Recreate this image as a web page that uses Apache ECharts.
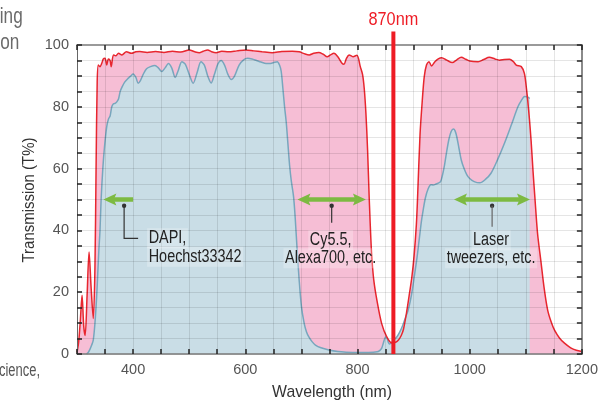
<!DOCTYPE html>
<html><head><meta charset="utf-8">
<script src="https://cdn.jsdelivr.net/npm/echarts@6/dist/echarts.min.js"></script>
<style>html,body{margin:0;padding:0;background:#fff;overflow:hidden}#c{width:601px;height:401px}</style>
</head><body><div id="c"></div>
<script>
// ---- data ----
const wavelengthTicks = [400, 600, 800, 1000, 1200];
const transmissionTicks = [0, 20, 40, 60, 80, 100];

// filter transmission (red / pink)
const filterCurve = [
  [300,0.5],[303,4],[306,11],[309,19],[312,9],[314.5,6],[318,19],[321.5,33],[325,22],[329,11.5],
  [332,28],[334,60],[336,88],[338,93.5],[341,93],[344,94],[347,95.5],[350,95.7],[353,93.5],[356,95.5],
  [359,95],[361,93],[365,96.8],[369,96.5],[374,97.3],[380,96.8],[388,97.8],[397,97.3],[405,97.8],[412,97.9],
  [425,97.6],[440,97.9],[455,97.6],[470,98],[485,97.7],[500,98.4],[510,97.8],[518,97.5],[525,98],[533,98.4],
  [540,97.8],[548,97.5],[558,98],[570,97.8],[585,98.1],[601,98.4],[615,98.1],[630,97.8],[648,97.5],[665,97.9],
  [684,98],[696,97.8],[705,97.2],[714,96.8],[722,97.3],[731,97.6],[739,97],[746,96.2],[752,96.8],[758,97.3],
  [765,96.2],[772,94.2],[776,93.8],[780,95.5],[785,96.8],[792,96.2],[799,96.7],[805,93],[809,90.5],[812,86],
  [815,78],[818,66],[821,50],[825,33],[829,24],[835,17],[843,9.9],[852,5.6],[861,3.6],[868,3.8],
  [873,4.5],[878,6],[882,8],[888,14],[893,20],[897,25],[901,32],[905,42],[907,50],[911.5,71],
  [915.5,82],[919,89.7],[923,93.5],[927.5,94.6],[932,93.2],[938,94.6],[944,95.5],[950,95.9],[959,95.1],[969,94.3],
  [977,95.2],[985,96],[993,95.4],[1000,94.8],[1015,94.6],[1025,95.3],[1035,96],[1045,95.5],[1053,95.1],[1062,95.3],
  [1071,95.4],[1078,94.6],[1083,93.5],[1092,93],[1097.5,90.8],[1100.5,87],[1103.5,82],[1106.5,76],[1109.5,69],[1113,59],
  [1116.5,50],[1121,39],[1127,30],[1133,21],[1139,14.2],[1145,10.5],[1151,7.8],[1160,5.2],[1169,3.5],[1180,2],
  [1190,1.2],[1200,0.8]
];

// specimen / dye transmission (blue)
const specimenCurve = [
  [317,0],[320,0.5],[323,1.5],[326,2.8],[329,4.5],[332,10],[335,18.5],[337,26],[339,33.7],[341,40],
  [343,50],[346,60],[349,67],[353,73.6],[356,76],[359,77],[362,80],[365,81],[368,81.1],[371,81.6],
  [374,82.5],[377,85],[380,86.3],[385,88],[391,89.2],[396,90],[400,90.6],[405,89.5],[409,87.6],[413,88.5],
  [418,90.5],[424,92.3],[431,93],[439,93.4],[445,92.6],[451,91.4],[457,92.6],[463,94],[469,92.5],[475,89.5],
  [480,91.5],[487,94.6],[493,93.8],[500,90.5],[507,87.6],[514,91],[521,94.6],[527,93.5],[533,90],[539,87.7],
  [545,90.5],[551,93.8],[557,95],[563,93.5],[569,90.5],[575,88.8],[581,90],[589,93.5],[597,95.2],[604,95.7],
  [612,95.5],[620,95],[628,94.5],[637,94],[645,94],[652,94.4],[657,94.6],[661,93.5],[664,91.5],[667,86],
  [670,80],[673,75],[676,68],[679,61],[682,56],[686,51],[689,44],[692,35],[696,24],[700,15.5],
  [705,9.9],[709,7.2],[713,5.6],[719,4],[725,2.9],[735,2],[749,1.3],[765,0.8],[780,0.6],[800,0.5],
  [820,0.5],[835,0.7],[840,1.2],[843,1.8],[846,3.5],[849,5.2],[851,5.6],[853,5],[855,3.8],[857,3.2],
  [859,3.4],[862,4],[866,4.8],[870,5.5],[875,7],[880,9],[885,11.5],[890,14],[894,17],[898,21],
  [902,26],[906,31],[910,37],[914,43],[917,46.5],[921,50.5],[926,53.5],[931,54.8],[935,54.7],[940,55],
  [944,55.3],[948,55.8],[951,57.5],[955,61],[959,65.5],[963,69.5],[967,72],[971,72.8],[974,72.2],[977,70.3],
  [981,66.5],[985,62.8],[990,60],[995,58],[1000,56.8],[1008,55.8],[1018,55.4],[1028,56.5],[1038,58.5],[1050,63],
  [1062,68.2],[1074,74],[1086,80],[1092,82],[1098,83.3],[1103,83.2],[1107,82.7]
];

// laser line (drawn position) and its label
const laserLineNm = 864;
const laserLineLabel = '870nm';

// wavelength bands shown by green arrows: [from, to]
const bandFrom = [347, 693, 972];
const bandTo = [400, 815, 1107.5];
const bandMarker = [384, 754, 1040];
const bandLabels = [['DAPI,', 'Hoechst33342'], ['Cy5.5,', 'Alexa700, etc.'], ['Laser', 'tweezers, etc.']];

const xTitle = 'Wavelength (nm)';
const yTitle = 'Transmission (T%)';

// ---- chart ----
const chart = echarts.init(document.getElementById('c'), null, {renderer: 'canvas'});
const FONT = '"Liberation Sans", Arial, sans-serif';
const tickStyle = {color: '#222', width: 1.5};
const gridLine = {show: true, lineStyle: {color: 'rgba(0,0,0,0.10)', width: 1}};

chart.setOption({
  animation: false,
  grid: {left: 77, right: 17, top: 45, bottom: 47, containLabel: false},
  xAxis: [
    {type: 'value', min: 300, max: 1200, interval: 50, position: 'bottom', z: 3,
     axisLine: {show: true, onZero: false, lineStyle: {color: '#7a7a7a', width: 1.5}},
     axisTick: {show: true, inside: true, length: 5, lineStyle: tickStyle},
     axisLabel: {margin: 8, color: '#555', fontSize: 14.5, fontFamily: FONT,
       formatter: v => wavelengthTicks.includes(v) ? String(v) : ''},
     splitLine: gridLine},
    {type: 'value', min: 300, max: 1200, interval: 50, position: 'top', z: 3,
     axisLine: {show: true, onZero: false, lineStyle: {color: '#9a9a9a', width: 2}},
     axisTick: {show: true, inside: true, length: 5, lineStyle: tickStyle},
     axisLabel: {show: false}, splitLine: {show: false}}
  ],
  yAxis: [
    {type: 'value', min: 0, max: 100, interval: 5, position: 'left', z: 3,
     axisLine: {show: true, onZero: false, lineStyle: {color: '#666', width: 1}},
     axisTick: {show: true, inside: true, length: 5, lineStyle: tickStyle},
     axisLabel: {margin: 8, color: '#555', fontSize: 14.5, fontFamily: FONT,
       formatter: v => transmissionTicks.includes(v) ? String(v) : ''},
     splitLine: gridLine},
    {type: 'value', min: 0, max: 100, interval: 5, position: 'right', z: 3,
     axisLine: {show: true, onZero: false, lineStyle: {color: '#8a8a8a', width: 2}},
     axisTick: {show: true, inside: true, length: 5, lineStyle: tickStyle},
     axisLabel: {show: false}, splitLine: {show: false}}
  ],
  series: [
    {type: 'line', data: filterCurve, xAxisIndex: 0, yAxisIndex: 0, showSymbol: false, smooth: 0.3,
     lineStyle: {width: 0, color: '#e8262f'}, areaStyle: {color: '#f6bed5', opacity: 1}, z: 1, silent: true},
    {type: 'line', data: specimenCurve, xAxisIndex: 0, yAxisIndex: 0, showSymbol: false, smooth: 0.3,
     lineStyle: {width: 1.5, color: '#78a6bd'}, areaStyle: {color: '#c9dde6', opacity: 1}, z: 2, silent: true},
    {type: 'line', data: filterCurve, xAxisIndex: 0, yAxisIndex: 0, showSymbol: false, smooth: 0.3,
     lineStyle: {width: 1.5, color: '#e8262f'}, z: 2, silent: true}
  ]
});

// ---- annotations (positioned through the axes) ----
const P = (x, y) => chart.convertToPixel({xAxisIndex: 0, yAxisIndex: 0}, [x, y]);
const els = [];
function txt(text, x, y, opt) {
  opt = opt || {};
  const st = {text, fill: opt.fill || '#222', font: (opt.size || 18) + 'px ' + FONT,
    textAlign: opt.align || 'center', align: opt.align || 'center',
    textVerticalAlign: 'middle', verticalAlign: 'middle'};
  if (opt.bg) { st.backgroundColor = opt.bg; st.padding = [1, 2]; }
  els.push({type: 'text', x, y, scaleX: opt.sx || 1, rotation: opt.rot || 0, z: 60, style: st});
}

// laser line
const lx = P(laserLineNm, 0);
els.push({type: 'line', shape: {x1: lx[0], y1: lx[1], x2: lx[0], y2: 31.5}, style: {stroke: '#ee1c25', lineWidth: 4}, z: 50});
txt(laserLineLabel, lx[0], 19.5, {fill: '#ee1c25', size: 18.5, sx: 0.88});

// green arrows
const G = '#7dba42';
function head(tipX, y, dir) {
  const hl = 13, hw = 6;
  els.push({type: 'polygon', z: 55, style: {fill: G},
    shape: {points: [[tipX, y], [tipX + dir * hl, y - hw], [tipX + dir * (hl - 2.5), y], [tipX + dir * hl, y + hw]]}});
}
for (let i = 0; i < bandFrom.length; i++) {
  const a = P(bandFrom[i], 50), b = P(bandTo[i], 50);
  const y = a[1];
  const twoHeads = i > 0;
  const x1 = a[0] + 10, x2 = twoHeads ? b[0] - 10 : b[0];
  els.push({type: 'rect', z: 54, shape: {x: x1, y: y - 2.25, width: x2 - x1, height: 4.5}, style: {fill: G}});
  head(a[0], y, 1);
  if (twoHeads) head(b[0], y, -1);
  const d = P(bandMarker[i], 48);
  els.push({type: 'circle', z: 56, shape: {cx: d[0], cy: d[1], r: 2.2}, style: {fill: '#333'}});
  if (i === 0) {
    els.push({type: 'polyline', z: 56, shape: {points: [[d[0], d[1]], [d[0], d[1] + 32.6], [d[0] + 14, d[1] + 32.6]]},
      style: {stroke: '#333', lineWidth: 1.2, fill: null}});
    txt(bandLabels[i][0], d[0] + 23, d[1] + 32.5, {align: 'left', sx: 0.8, bg: 'rgba(255,255,255,0.25)'});
    txt(bandLabels[i][1], d[0] + 23, d[1] + 51, {align: 'left', sx: 0.8, bg: 'rgba(255,255,255,0.25)'});
  } else {
    els.push({type: 'line', z: 56, shape: {x1: d[0], y1: d[1], x2: d[0], y2: d[1] + (i === 1 ? 17 : 21)},
      style: {stroke: i === 1 ? '#333' : '#666', lineWidth: 1.2}});
    txt(bandLabels[i][0], d[0] - 1, d[1] + 34.5, {sx: 0.8, bg: 'rgba(255,255,255,0.25)'});
    txt(bandLabels[i][1], d[0] - 1, d[1] + 52.5, {sx: 0.8, bg: 'rgba(255,255,255,0.25)'});
  }
}

// axis titles
txt(xTitle, 332, 392, {fill: '#333', size: 17, sx: 0.93});
txt(yTitle, 29, 200, {fill: '#333', size: 17, sx: 0.88, rot: Math.PI / 2});

// fragments of surrounding page text
txt('ing', 22.7, 17, {fill: '#6b6b6b', size: 22, sx: 0.78, align: 'right'});
txt('on', 19.3, 43, {fill: '#6b6b6b', size: 22, sx: 0.78, align: 'right'});
txt('cience,', 40, 371, {fill: '#555', size: 18, sx: 0.72, align: 'right'});

chart.setOption({graphic: {elements: els}});
</script>
</body></html>
